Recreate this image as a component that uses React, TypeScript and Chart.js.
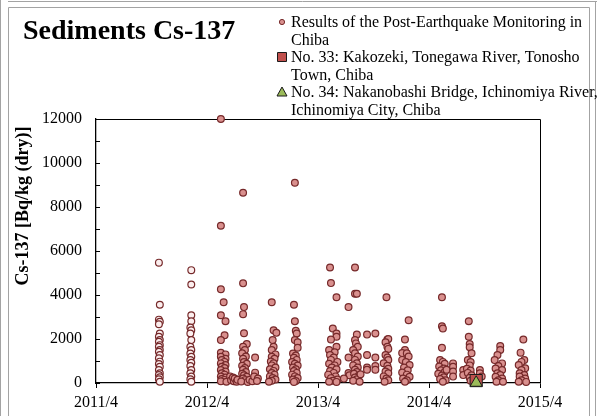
import { useEffect, useRef } from 'react';
import { Chart, registerables } from 'chart.js';

Chart.register(...registerables);

// x values are months counted from April 2011
const xTickYears = [2011, 2012, 2013, 2014, 2015];

const titleText = 'Sediments Cs-137';
const yAxisTitle = 'Cs-137 [Bq/kg (dry)]';
const seriesLabels = [
  ['Results of the Post-Earthquake Monitoring in', 'Chiba'],
  ['No. 33: Kakozeki, Tonegawa River, Tonosho', 'Town, Chiba'],
  ['No. 34: Nakanobashi Bridge, Ichinomiya River,', 'Ichinomiya City, Chiba'],
];

// Post-earthquake monitoring rounds: [month, Bq/kg]
const round2011Nov = [
  [6.8, 5470], [6.9, 3560], [6.8, 2880], [6.9, 2780], [6.8, 2670], [6.9, 2250], [6.8, 2100], [6.9, 1950],
  [6.8, 1870], [6.9, 1720], [6.8, 1650], [6.9, 1500], [6.8, 1420], [6.9, 1270], [6.8, 1120], [6.9, 970],
  [6.8, 860], [6.9, 740], [6.8, 590], [6.9, 440], [6.8, 360], [6.9, 260], [6.8, 170], [6.9, 60],
];
const round2012Feb = [
  [10.3, 5130], [10.3, 4480], [10.3, 3080], [10.3, 2810], [10.2, 2520], [10.3, 2400], [10.2, 2250], [10.3, 1950],
  [10.2, 1650], [10.3, 1500], [10.2, 1340], [10.3, 1190], [10.2, 1040], [10.3, 920], [10.2, 770], [10.3, 590],
  [10.2, 440], [10.3, 290], [10.2, 170], [10.3, 60],
];
const round2012May = [
  [13.5, 12000], [13.5, 7150], [13.5, 4260], [13.8, 3670], [13.5, 3080], [14.0, 2810], [13.9, 2170], [13.5, 1950],
  [13.5, 1370], [14.0, 1300], [13.5, 1190], [14.0, 1100], [13.6, 1040], [13.9, 960], [13.5, 890], [14.0, 820],
  [13.6, 740], [13.9, 680], [13.5, 590], [14.0, 520], [13.6, 440], [13.9, 380], [13.5, 290], [14.0, 250],
  [13.6, 180], [13.9, 140], [13.5, 80], [14.1, 60],
  [14.5, 300], [14.6, 120], [14.8, 250], [14.9, 80], [15.0, 200], [15.2, 60], [15.3, 150],
];
const round2012Aug = [
  [15.9, 8650], [15.9, 4530], [16.0, 3450], [15.9, 3130], [16.0, 2260], [16.3, 1770], [15.9, 1650], [16.1, 1500],
  [15.8, 1350], [16.2, 1200], [15.9, 1100], [16.0, 950], [16.3, 870], [15.8, 780], [16.1, 680], [15.9, 600],
  [16.2, 500], [15.8, 420], [16.0, 350], [16.3, 280], [15.9, 200], [16.1, 130], [15.7, 70], [16.4, 50],
  [16.6, 150], [16.9, 80], [17.2, 1160], [17.2, 470], [17.1, 290], [17.5, 200], [17.4, 90],
];
const round2012Nov = [
  [19.0, 3670], [19.2, 2400], [19.5, 2280], [19.1, 1950], [19.2, 1650], [19.0, 1500], [19.4, 1300], [19.0, 1190],
  [19.3, 1100], [18.9, 980], [19.2, 900], [19.0, 800], [19.4, 700], [18.8, 620], [19.2, 550], [19.0, 450],
  [19.3, 380], [18.8, 300], [19.1, 230], [19.4, 160], [19.0, 100], [18.7, 60],
];
const round2013Jan = [
  [21.5, 9100], [21.4, 3560], [21.5, 2810], [21.6, 2370], [21.7, 2250], [21.5, 1950], [21.8, 1850], [21.8, 1600],
  [21.3, 1340], [21.6, 1250], [21.4, 1150], [21.7, 1050], [21.2, 950], [21.5, 870], [21.8, 790], [21.3, 700],
  [21.6, 620], [21.4, 540], [21.7, 460], [21.2, 380], [21.5, 300], [21.8, 230], [21.3, 160], [21.6, 90], [21.4, 50],
];
const round2013May = [
  [25.3, 5250], [25.4, 4540], [26.0, 3900], [25.6, 2480], [26.0, 2250], [26.0, 2100], [25.4, 1980], [26.0, 1650],
  [25.2, 1500], [25.8, 1400], [25.3, 1270], [25.7, 1160], [25.4, 1050], [26.1, 960], [25.2, 870], [25.8, 800],
  [25.5, 700], [26.0, 620], [25.3, 540], [25.7, 460], [25.1, 380], [25.9, 300], [25.4, 220], [26.1, 160],
  [25.6, 100], [25.2, 60], [26.0, 50],
  [27.3, 3450], [27.3, 1160], [27.3, 450], [27.4, 350], [26.8, 200],
];
const round2013Aug = [
  [28.0, 5250], [28.0, 4060], [28.2, 4060], [28.2, 2200], [28.0, 1950], [28.1, 1800], [28.3, 1650], [27.8, 1500],
  [28.0, 1350], [28.3, 1200], [28.0, 1050], [28.2, 900], [27.8, 800], [28.3, 700], [28.0, 600], [28.2, 500],
  [27.9, 420], [28.4, 330], [28.0, 250], [28.2, 170], [27.8, 100], [28.5, 60], [28.6, 400],
  [29.3, 2200], [30.2, 2250], [29.3, 1270], [30.2, 1160], [29.3, 700], [30.2, 770], [29.3, 600], [30.2, 600],
];
const round2013Nov = [
  [31.4, 3900], [31.5, 1980], [31.6, 2000], [31.3, 1850], [31.5, 1650], [31.6, 1550], [31.3, 1270], [31.5, 1160],
  [31.6, 1040], [31.1, 900], [31.5, 780], [31.6, 650], [31.3, 520], [31.6, 440], [31.1, 300], [31.4, 200],
  [31.6, 120], [31.2, 60],
];
const round2014Jan = [
  [33.8, 2850], [33.4, 1980], [33.4, 1500], [33.1, 1360], [33.6, 1350], [33.8, 1200], [33.1, 1050], [33.5, 950],
  [33.9, 820], [33.3, 700], [33.7, 580], [33.1, 480], [33.6, 380], [33.9, 280], [33.2, 200], [33.6, 120], [33.4, 60],
];
const round2014May = [
  [37.4, 3900], [37.4, 2580], [37.5, 2480], [37.4, 1600], [37.2, 1040], [37.5, 960], [37.7, 870], [37.1, 750],
  [37.6, 660], [37.3, 580], [37.7, 500], [37.0, 420], [37.4, 340], [37.6, 260], [37.2, 180], [37.8, 120],
  [37.5, 60], [37.9, 600],
  [38.6, 890], [38.6, 740], [38.6, 520], [38.6, 290], [39.7, 590], [39.7, 360],
];
const round2014Aug = [
  [40.3, 2810], [40.3, 2100], [40.4, 1770], [40.4, 1620], [40.6, 1350], [40.2, 1040], [40.5, 950], [40.4, 800],
  [40.1, 650], [40.5, 570], [40.2, 460], [40.6, 350], [40.4, 240], [40.5, 100],
  [41.5, 590], [41.5, 440], [41.7, 290],
];
const round2014Nov = [
  [43.7, 1680], [43.7, 1500], [43.4, 1270], [43.1, 1040], [43.9, 890], [43.5, 770], [43.2, 660], [43.9, 590],
  [43.4, 440], [43.7, 360], [43.2, 280], [43.9, 200], [43.5, 120], [43.3, 60], [44.0, 60],
];
const round2015Jan = [
  [46.2, 1980], [45.9, 1380], [46.3, 1040], [46.0, 960], [45.7, 820], [46.4, 670], [46.0, 590], [45.8, 440],
  [46.3, 360], [45.8, 290], [46.4, 200], [46.0, 120], [45.7, 60], [46.5, 50],
];

// Fixed monitoring sites
const site33 = [[41.1, 110]];
const site34 = [[41.1, 10]];

const monitoringRounds = [
  round2011Nov, round2012Feb, round2012May, round2012Aug, round2012Nov, round2013Jan, round2013May,
  round2013Aug, round2013Nov, round2014Jan, round2014May, round2014Aug, round2014Nov, round2015Jan,
];

const SERIF = '"Liberation Serif", "Times New Roman", serif';

const toPoints = (rows: number[][]) => rows.map(([x, y]) => ({ x, y }));

const decorations = {
  id: 'decorations',
  beforeDraw(chart: any) {
    const { ctx, width, height } = chart;
    ctx.save();
    ctx.fillStyle = '#ffffff';
    ctx.fillRect(0, 0, width, height);
    ctx.strokeStyle = '#a3a3a3';
    ctx.lineWidth = 1;
    ctx.beginPath();
    ctx.moveTo(0.5, 0);
    ctx.lineTo(0.5, height);
    ctx.moveTo(8, 1.5);
    ctx.lineTo(width, 1.5);
    ctx.moveTo(width - 1.5, 1.5);
    ctx.lineTo(width - 1.5, height);
    ctx.moveTo(8.5, height);
    ctx.lineTo(8.5, 7.5);
    ctx.lineTo(width - 7.5, 7.5);
    ctx.lineTo(width - 7.5, height);
    ctx.stroke();
    ctx.restore();
  },
  beforeDatasetsDraw(chart: any) {
    const { ctx, chartArea } = chart;
    const { left, right, top, bottom } = chartArea;
    ctx.save();
    ctx.strokeStyle = '#000000';
    ctx.lineWidth = 1;
    ctx.beginPath();
    ctx.moveTo(left, top + 0.5);
    ctx.lineTo(right + 0.5, top + 0.5);
    ctx.lineTo(right + 0.5, bottom);
    ctx.stroke();
    // inward ticks on the value axis
    const yScale = chart.scales.y;
    ctx.beginPath();
    for (const t of yScale.ticks) {
      const py = Math.round(yScale.getPixelForValue(t.value)) + 0.5;
      ctx.moveTo(left, py);
      ctx.lineTo(left + 4, py);
    }
    ctx.stroke();
    ctx.restore();
  },
  afterDraw(chart: any) {
    const { ctx } = chart;
    ctx.save();
    ctx.fillStyle = '#000000';
    ctx.textAlign = 'left';
    ctx.textBaseline = 'alphabetic';
    ctx.font = `bold 28px ${SERIF}`;
    ctx.fillText(titleText, 23, 39);

    // value axis title
    ctx.save();
    ctx.translate(28, 206);
    ctx.rotate(-Math.PI / 2);
    ctx.textAlign = 'center';
    ctx.font = `bold 18px ${SERIF}`;
    ctx.fillText(yAxisTitle, 0, 0);
    ctx.restore();

    // legend
    ctx.font = `16px ${SERIF}`;
    const markerX = 282;
    const textX = 291;
    chart.data.datasets.forEach((ds: any, i: number) => {
      const base = 27 + i * 35;
      const lines = ds.label as string[];
      lines.forEach((line: string, j: number) => {
        ctx.fillStyle = '#000000';
        ctx.fillText(line, textX, base + j * 17.5);
      });
      const my = base - 5;
      ctx.lineWidth = 1;
      ctx.strokeStyle = ds.legendBorder;
      ctx.fillStyle = ds.legendFill;
      ctx.beginPath();
      if (ds.pointStyle === 'circle') {
        ctx.arc(markerX, my, 2.6, 0, Math.PI * 2);
      } else if (ds.pointStyle === 'rect') {
        ctx.rect(markerX - 4.5, my - 4.5, 9, 9);
      } else {
        ctx.moveTo(markerX, my - 5);
        ctx.lineTo(markerX + 5, my + 4);
        ctx.lineTo(markerX - 5, my + 4);
        ctx.closePath();
      }
      ctx.fill();
      ctx.stroke();
    });
    ctx.restore();
  },
};

export default function App() {
  const canvasRef = useRef<HTMLCanvasElement | null>(null);

  useEffect(() => {
    document.body.style.margin = '0';
    const canvas = canvasRef.current;
    if (!canvas) return;
    Chart.defaults.font.family = SERIF;
    Chart.defaults.color = '#000000';

    const monitoring = monitoringRounds.flatMap(toPoints);

    const chart = new Chart(canvas, {
      type: 'scatter',
      data: {
        datasets: [
          {
            label: seriesLabels[0] as any,
            data: monitoring,
            pointStyle: 'circle',
            pointRadius: 3.4,
            pointHoverRadius: 3.4,
            pointBorderWidth: 1.2,
            pointBorderColor: '#76292a',
            pointBackgroundColor: (c: any) => (c.raw && c.raw.x < 12 ? '#fbeeee' : '#d9908e'),
            clip: false,
            order: 2,
            legendFill: '#d9908e',
            legendBorder: '#76292a',
          } as any,
          {
            label: seriesLabels[1] as any,
            data: toPoints(site33),
            pointStyle: 'rect',
            pointRadius: 8.6,
            pointHoverRadius: 8.6,
            pointBorderWidth: 1,
            pointBorderColor: '#1a1a1a',
            pointBackgroundColor: '#c0504d',
            clip: false,
            order: 1,
            legendFill: '#c0504d',
            legendBorder: '#1a1a1a',
          } as any,
          {
            label: seriesLabels[2] as any,
            data: toPoints(site34),
            pointStyle: 'triangle',
            pointRadius: 7,
            pointHoverRadius: 7,
            pointBorderWidth: 1,
            pointBorderColor: '#1a1a1a',
            pointBackgroundColor: '#9bbb59',
            clip: false,
            order: 0,
            legendFill: '#9bbb59',
            legendBorder: '#1a1a1a',
          } as any,
        ],
      },
      options: {
        animation: false,
        responsive: false,
        events: [],
        layout: { padding: { top: 119, right: 57, bottom: 0, left: 0 } },
        plugins: {
          legend: { display: false },
          tooltip: { enabled: false },
          title: { display: false },
        },
        scales: {
          x: {
            type: 'linear',
            min: 0,
            max: 48,
            afterFit: (s: any) => { s.height = 33; },
            ticks: {
              stepSize: 12,
              autoSkip: false,
              maxRotation: 0,
              padding: 5,
              font: { size: 16, family: SERIF },
              color: '#000000',
              callback: (v: any) => `${xTickYears[Math.round(Number(v) / 12)]}/4`,
            },
            grid: { drawOnChartArea: false, drawTicks: true, tickLength: 5, color: '#000000' },
            border: { display: true, color: '#000000', width: 1.3 },
          },
          y: {
            type: 'linear',
            min: 0,
            max: 12000,
            afterFit: (s: any) => { s.width = 96; },
            ticks: {
              stepSize: 1000,
              autoSkip: false,
              padding: 14,
              font: { size: 16, family: SERIF },
              color: '#000000',
              callback: (v: any) => (Number(v) % 2000 === 0 ? String(v) : ''),
            },
            grid: { drawOnChartArea: false, drawTicks: false },
            border: { display: true, color: '#000000', width: 1.3 },
          },
        },
      },
      plugins: [decorations],
    });

    return () => chart.destroy();
  }, []);

  return (
    <div style={{ position: 'fixed', left: 0, top: 0, width: 597, height: 416 }}>
      <canvas ref={canvasRef} width={597} height={416} style={{ display: 'block' }} />
    </div>
  );
}
